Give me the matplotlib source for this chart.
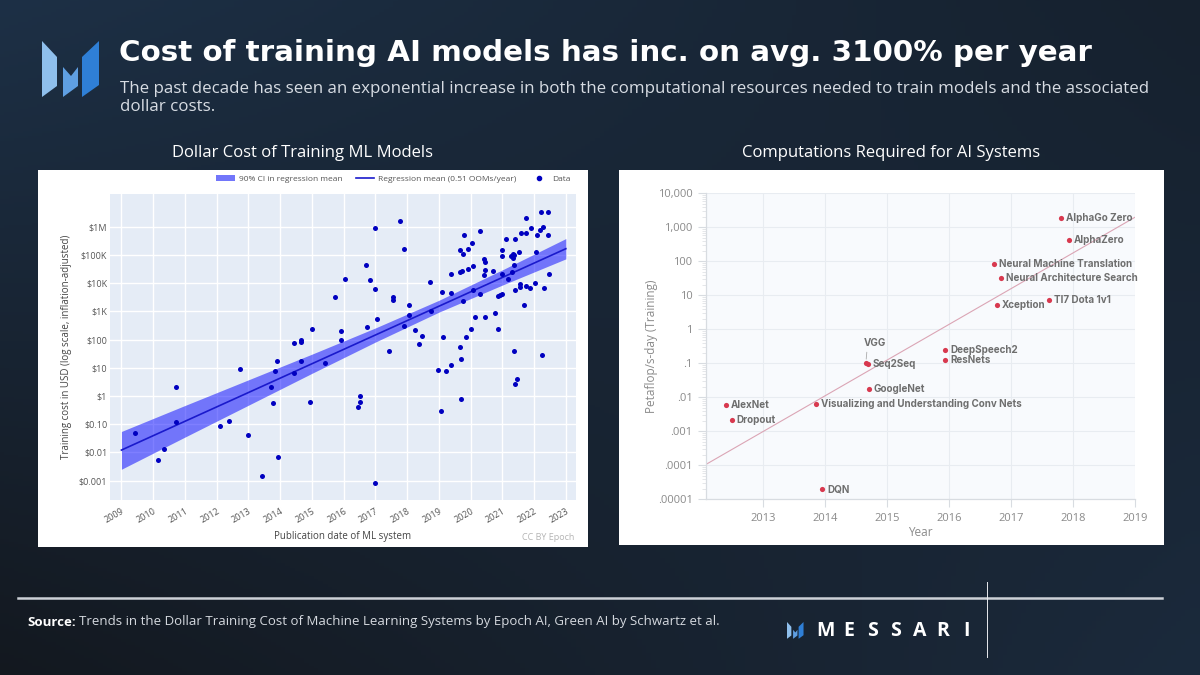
import numpy as np
import matplotlib
matplotlib.use('Agg')
import matplotlib.pyplot as plt
from matplotlib.patches import Polygon, Rectangle, Patch
from matplotlib.lines import Line2D
from matplotlib.ticker import LogLocator, NullFormatter, NullLocator

plt.rcParams['font.family'] = ['Open Sans', 'DejaVu Sans']

# ---- left chart: dollar cost of training ML models (Epoch) ----
pub_year = [
    2009.44, 2010.14, 2010.34, 2010.72, 2010.72, 2012.10, 2012.40, 2012.73, 2012.98, 2013.42,
    2013.70, 2013.77, 2013.85, 2013.90, 2013.94, 2014.43, 2014.44, 2014.65, 2014.67, 2014.65,
    2014.95, 2015.00, 2015.41, 2015.72, 2015.91, 2015.91, 2016.05, 2016.44, 2016.52, 2016.53,
    2016.71, 2016.73, 2016.82, 2016.98, 2016.98, 2016.99, 2017.04, 2017.42, 2017.56, 2017.57,
    2017.77, 2017.90, 2017.89, 2018.07, 2018.07, 2018.24, 2018.38, 2018.48, 2018.71, 2018.76,
    2018.98, 2019.06, 2019.10, 2019.12, 2019.22, 2019.37, 2019.38, 2019.38, 2019.65, 2019.69,
    2019.71, 2019.66, 2019.74, 2019.66, 2019.77, 2019.79, 2019.75, 2019.85, 2019.92, 2019.93,
    2020.01, 2020.03, 2020.09, 2020.06, 2020.15, 2020.29, 2020.31, 2020.42, 2020.46, 2020.44,
    2020.42, 2020.46, 2020.70, 2020.78, 2020.86, 2020.87, 2020.94, 2020.99, 2020.98, 2020.99,
    2020.99, 2021.13, 2021.19, 2021.28, 2021.34, 2021.38, 2021.35, 2021.29, 2021.37, 2021.37,
    2021.41, 2021.41, 2021.41, 2021.47, 2021.54, 2021.55, 2021.55, 2021.58, 2021.67, 2021.74,
    2021.75, 2021.74, 2021.87, 2021.90, 2022.03, 2022.07, 2022.08, 2022.20, 2022.22, 2022.29,
    2022.31, 2022.25, 2022.44, 2022.45, 2022.48,
]
# training cost, log10 of USD
cost_log10 = [
    -1.32, -2.28, -1.87, 0.32, -0.94, -1.08, -0.89, 0.95, -1.39, -2.84,
    0.32, -0.25, 0.87, 1.25, -2.18, 0.80, 1.86, 1.98, 1.90, 1.24,
    -0.21, 2.38, 1.16, 3.50, 2.31, 1.98, 4.16, -0.39, -0.21, -0.01,
    4.64, 2.43, 4.12, 3.80, 5.94, -3.08, 2.73, 1.58, 3.40, 3.50,
    6.20, 5.22, 2.47, 3.21, 2.86, 2.33, 1.84, 2.12, 4.03, 3.01,
    0.91, -0.54, 3.68, 2.08, 0.89, 3.66, 4.33, 1.08, 1.72, -0.10,
    1.32, 4.39, 4.42, 5.18, 5.03, 5.72, 3.35, 2.09, 5.22, 4.50,
    2.38, 5.42, 4.60, 3.77, 2.81, 5.85, 3.62, 4.85, 4.75, 4.45,
    4.29, 2.81, 4.42, 2.93, 2.36, 3.53, 3.57, 3.60, 4.32, 4.95,
    5.17, 5.56, 4.13, 4.95, 5.05, 4.98, 4.90, 4.40, 4.65, 1.60,
    5.56, 3.75, 0.42, 0.59, 5.09, 3.96, 3.86, 5.76, 3.22, 6.32,
    5.79, 3.91, 3.83, 5.96, 3.99, 5.09, 5.69, 5.88, 6.51, 5.99,
    3.83, 1.45, 5.71, 6.51, 4.33,
]
reg_year = [2009, 2023]
reg_log10 = [-1.92, 5.22]
ci_year = [2009, 2011, 2013, 2015, 2017, 2019, 2021, 2023]
ci_low_log10 = [-2.60, -1.46, -0.33, 0.80, 1.91, 2.97, 3.93, 4.86]
ci_high_log10 = [-1.26, -0.34, 0.57, 1.48, 2.41, 3.39, 4.47, 5.58]
cost_ticks = [1e-3, 1e-2, 1e-1, 1, 10, 100, 1e3, 1e4, 1e5, 1e6]
cost_tick_labels = ['\\$0.001', '\\$0.01', '\\$0.10', '\\$1', '\\$10', '\\$100',
                    '\\$1K', '\\$10K', '\\$100K', '\\$1M']
left_years = list(range(2009, 2024))

# ---- right chart: computations required for AI systems ----
sys_names = ['AlexNet', 'Dropout', 'Visualizing and Understanding Conv Nets', 'DQN', 'VGG',
             'Seq2Seq', 'GoogleNet', 'DeepSpeech2', 'ResNets', 'Xception',
             'Neural Machine Translation', 'Neural Architecture Search', 'TI7 Dota 1v1',
             'AlphaZero', 'AlphaGo Zero']
sys_year = [2012.41, 2012.50, 2013.86, 2013.96, 2014.66, 2014.69, 2014.71, 2015.94, 2015.94,
            2016.77, 2016.73, 2016.84, 2017.61, 2017.93, 2017.80]
sys_pfs_days = [0.0059, 0.0022, 0.0065, 2.0e-5, 0.10, 0.096, 0.018, 0.245, 0.123,
                5.25, 81, 32, 7.1, 427, 1905]
trend_year = [2012.08, 2019.0]
trend_pfs_days = [1.05e-4, 2.0e3]
pfs_ticks = [1e-5, 1e-4, 1e-3, 1e-2, 1e-1, 1, 10, 100, 1e3, 1e4]
pfs_tick_labels = ['.00001', '.0001', '.001', '.01', '.1', '1', '10', '100', '1,000', '10,000']
right_years = list(range(2013, 2020))

W, H = 1200, 675
fig = plt.figure(figsize=(12, 6.75), dpi=100)


def fx(x):
    return x / W


def fy(y):
    return 1 - y / H


# background gradient
bg = fig.add_axes([0, 0, 1, 1], zorder=-10)
corners = np.array([[[0x13, 0x18, 0x1f], [0x1b, 0x2a, 0x3c]],
                    [[0x1d, 0x30, 0x46], [0x16, 0x21, 0x2e]]]) / 255
bg.imshow(corners, extent=[0, 1, 0, 1], interpolation='bilinear', aspect='auto')
bg.set_xlim(0.25, 0.75)
bg.set_ylim(0.75, 0.25)
bg.axis('off')

# logo (top left)
logo_shapes = [
    ([(42, 41), (57, 57), (57, 86), (42, 97)], '#8fbfec'),
    ([(63, 67), (71, 76), (78, 67), (78, 86), (63, 97)], '#5f9fe2'),
    ([(82, 57), (99, 41), (99, 85), (82, 97)], '#2f7fd6'),
]
for pts, col in logo_shapes:
    fig.add_artist(Polygon([(fx(x), fy(y)) for x, y in pts], closed=True,
                           transform=fig.transFigure, facecolor=col, edgecolor='none'))

fig.text(fx(119), fy(53), 'Cost of training AI models has inc. on avg. 3100% per year',
         color='white', fontsize=21.2, weight='bold', va='center',
         family=['DejaVu Sans'])
fig.text(fx(120), fy(89), 'The past decade has seen an exponential increase in both the '
         'computational resources needed to train models and the associated',
         color='#d7dce3', fontsize=12.2, va='center')
fig.text(fx(120), fy(107), 'dollar costs.', color='#d7dce3', fontsize=12.2, va='center')

fig.text(fx(303), fy(153), 'Dollar Cost of Training ML Models', color='white',
         fontsize=12, ha='center', va='center')
fig.text(fx(891), fy(153), 'Computations Required for AI Systems', color='white',
         fontsize=12, ha='center', va='center')

# white panels
fig.add_artist(Rectangle((fx(38), fy(547)), (588 - 38) / W, (547 - 170) / H,
                         transform=fig.transFigure, facecolor='white', edgecolor='none',
                         zorder=-5))
fig.add_artist(Rectangle((fx(619), fy(545)), (1164 - 619) / W, (545 - 170) / H,
                         transform=fig.transFigure, facecolor='white', edgecolor='none',
                         zorder=-5))

# ---- left chart ----
ax1 = fig.add_axes([fx(110), fy(500), (576 - 110) / W, (500 - 194) / H])
ax1.set_facecolor('#e5ecf6')
ax1.set_yscale('log')
ax1.set_xlim(2008.64, 2023.32)
ax1.set_ylim(10 ** -3.69, 10 ** 7.16)
ax1.yaxis.set_minor_locator(NullLocator())
ax1.set_yticks(cost_ticks)
ax1.set_yticklabels(cost_tick_labels)
ax1.set_xticks(left_years)
ax1.set_xticklabels([str(y) for y in left_years], rotation=30, ha='right',
                    rotation_mode='anchor')
ax1.grid(color='white', lw=1)
ax1.set_axisbelow(True)
for s in ax1.spines.values():
    s.set_visible(False)
ax1.tick_params(length=0, labelsize=6.5, colors='#555555')
ax1.tick_params(axis='y', pad=2)
ax1.tick_params(axis='x', pad=5)

ci_low = 10 ** np.array(ci_low_log10)
ci_high = 10 ** np.array(ci_high_log10)
ax1.fill_between(ci_year, ci_low, ci_high, color='#0000ff', alpha=0.5, lw=0, zorder=2)
ax1.plot(reg_year, 10 ** np.array(reg_log10), color='#1a1acc', lw=1.2, zorder=2.5)
ax1.scatter(pub_year, 10 ** np.array(cost_log10), s=13, color='#0000c0', lw=0, zorder=3)

ax1.set_ylabel('Training cost in USD (log scale, inflation-adjusted)', fontsize=7,
               color='#444444', labelpad=5)
ax1.set_xlabel('Publication date of ML system', fontsize=7, color='#444444', labelpad=4)

handles = [Patch(facecolor='#7276fa', edgecolor='none'),
           Line2D([], [], color='#1a1acc', lw=1.2),
           Line2D([], [], color='#0000c0', marker='o', ls='', markersize=3)]
leg = fig.legend(handles, ['90% CI in regression mean', 'Regression mean (0.51 OOMs/year)',
                           'Data'],
                 loc='center right', bbox_to_anchor=(fx(574), fy(179)), ncol=3,
                 frameon=False, fontsize=6, handlelength=2.2, handleheight=0.6,
                 columnspacing=1.6, handletextpad=0.5, borderaxespad=0)
for t in leg.get_texts():
    t.set_color('#555555')

fig.text(fx(574), fy(537), 'CC BY Epoch', color='#b5b5b5', fontsize=6.5, ha='right',
         va='center')

# ---- right chart ----
ax2 = fig.add_axes([fx(705.7), fy(499.3), (1135.3 - 705.7) / W, (499.3 - 193.3) / H])
ax2.set_facecolor('#f8fafd')
ax2.set_yscale('log')
ax2.set_xlim(2012.08, 2019)
ax2.set_ylim(1e-5, 1e4)
ax2.set_yticks(pfs_ticks)
ax2.set_yticklabels(pfs_tick_labels)
ax2.yaxis.set_minor_locator(LogLocator(base=10, subs=np.arange(2, 10), numticks=20))
ax2.yaxis.set_minor_formatter(NullFormatter())
ax2.set_xticks(right_years)
ax2.grid(which='major', color='#e8ecf1', lw=0.8)
ax2.set_axisbelow(True)
for side in ['top', 'right']:
    ax2.spines[side].set_visible(False)
for side in ['left', 'bottom']:
    ax2.spines[side].set_color('#d8dce1')
    ax2.spines[side].set_linewidth(0.9)
ax2.tick_params(which='major', length=6, color='#d8dce1', labelcolor='#8a8a8a',
                labelsize=8)
ax2.tick_params(which='minor', length=3, color='#e0e3e7')
ax2.tick_params(axis='x', pad=4)

ax2.plot(trend_year, trend_pfs_days, color='#dba5b5', lw=0.8, zorder=2)
ax2.scatter(sys_year, sys_pfs_days, s=14, color='#d8394f', lw=0, zorder=3)
for name, x, y in zip(sys_names, sys_year, sys_pfs_days):
    if name == 'VGG':
        ax2.annotate(name, (x, y), xytext=(-1.5, 11), textcoords='offset points',
                     ha='left', va='bottom', fontsize=7.1, color='#6e6e6e',
                     weight='bold', family=['Inter', 'DejaVu Sans'],
                     arrowprops=dict(arrowstyle='-', color='#aaaaaa', lw=0.6,
                                     shrinkA=1, shrinkB=3, relpos=(0.15, 0)))
    else:
        ax2.annotate(name, (x, y), xytext=(3.5, 0), textcoords='offset points',
                     ha='left', va='center', fontsize=7.1, color='#6e6e6e',
                     weight='bold', family=['Inter', 'DejaVu Sans'])

ax2.set_ylabel('Petaflop/s-day (Training)', fontsize=8.5, color='#8a8a8a', labelpad=0)
ax2.set_xlabel('Year', fontsize=8.5, color='#8a8a8a', labelpad=1)

# ---- footer ----
fig.add_artist(Line2D([fx(18), fx(1162)], [fy(598), fy(598)], transform=fig.transFigure,
                      color='#cdd1d7', lw=1.8))
fig.add_artist(Line2D([fx(987), fx(987)], [fy(582), fy(657)], transform=fig.transFigure,
                      color='#e8eaee', lw=0.7))

src = fig.text(fx(27), fy(622), 'Source:', color='white', fontsize=9.5, weight='bold',
               va='center')
fig.canvas.draw()
bb = src.get_window_extent()
fig.text(bb.x1 / W + 3 / W, fy(622),
         'Trends in the Dollar Training Cost of Machine Learning Systems by Epoch AI, '
         'Green AI by Schwartz et al.', color='#d5d9df', fontsize=9.5, va='center')

# messari wordmark
for pts, col in logo_shapes:
    fig.add_artist(Polygon([(fx(787 + (x - 42) * 0.29), fy(622 + (y - 41) * 0.3))
                            for x, y in pts], closed=True, transform=fig.transFigure,
                           facecolor=col, edgecolor='none'))
for i, ch in enumerate('MESSARI'):
    fig.text(fx(825 + i * 23.6), fy(631), ch, color='white', fontsize=14, weight='bold',
             ha='center', va='center')

fig.savefig('out.png', dpi=100)
